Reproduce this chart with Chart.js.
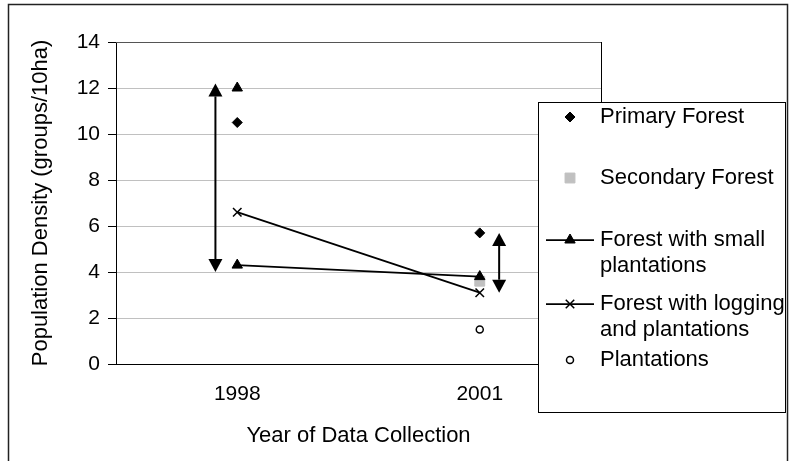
<!DOCTYPE html>
<html lang="en">
<head>
<meta charset="UTF-8">
<title>Population Density by Year</title>
<style>
  body { margin: 0; background: #fff; }
  #wrap { width: 794px; height: 461px; }
</style>
</head>
<body>
<div id="wrap"><canvas id="densityChart" width="794" height="461"></canvas></div>
<script src="https://cdn.jsdelivr.net/npm/chart.js"></script>
<script>
// categories
const years = ['1998', '2001'];

// series values (groups/10ha), null = no value
const primaryForest = [10.5, 5.7];
const secondaryForest = [null, 3.6];
const smallPlantations = [4.3, 3.8];
const smallPlantationsHigh = [12.0, null];
const loggingPlantations = [6.6, 3.1];
const plantations = [null, 1.5];

// range arrows (x as category index, low and high ends)
const arrowX = [-0.09, 1.08];
const arrowLow = [4.0, 3.1];
const arrowHigh = [12.2, 5.7];

// y axis ticks
const yTicks = [0, 2, 4, 6, 8, 10, 12, 14];

// legend labels, one array per entry (wrapped lines)
const legendText = [
    ['Primary Forest'],
    ['Secondary Forest'],
    ['Forest with small', 'plantations'],
    ['Forest with logging', 'and plantations'],
    ['Plantations']
];

const FONT = '"Liberation Sans", Arial, sans-serif';
Chart.defaults.font.family = FONT;
Chart.defaults.font.size = 21;
Chart.defaults.color = '#000';

function toPoints(values) {
    return values.map((v, i) => ({ x: i, y: v }));
}

// white background, outer frame and plot area border
const framePlugin = {
    id: 'frame',
    beforeDraw(chart) {
        const ctx = chart.ctx;
        ctx.save();
        ctx.fillStyle = '#fff';
        ctx.fillRect(0, 0, chart.width, chart.height);
        ctx.strokeStyle = '#222';
        ctx.lineWidth = 1.5;
        ctx.strokeRect(8.5, 4.5, 779, 480);
        ctx.restore();
    },
    beforeDatasetsDraw(chart) {
        const { ctx, chartArea: a } = chart;
        ctx.save();
        ctx.lineWidth = 1;
        ctx.strokeStyle = '#555';
        ctx.beginPath();
        ctx.moveTo(a.left, a.top + 0.5);
        ctx.lineTo(a.right + 0.5, a.top + 0.5);
        ctx.stroke();
        ctx.strokeStyle = '#000';
        ctx.beginPath();
        ctx.moveTo(a.right + 0.5, a.top);
        ctx.lineTo(a.right + 0.5, a.bottom);
        ctx.stroke();
        ctx.restore();
    }
};

// double headed range arrows
const arrowPlugin = {
    id: 'arrows',
    afterDatasetsDraw(chart) {
        const { ctx, scales: { x, y } } = chart;
        const head = 13, half = 7;
        ctx.save();
        ctx.strokeStyle = '#000';
        ctx.fillStyle = '#000';
        ctx.lineWidth = 2;
        arrowX.forEach((ax, i) => {
            const px = x.getPixelForValue(ax);
            const top = y.getPixelForValue(arrowHigh[i]);
            const bot = y.getPixelForValue(arrowLow[i]);
            ctx.beginPath();
            ctx.moveTo(px, top + head);
            ctx.lineTo(px, bot - head);
            ctx.stroke();
            ctx.beginPath();
            ctx.moveTo(px, top);
            ctx.lineTo(px - half, top + head);
            ctx.lineTo(px + half, top + head);
            ctx.closePath();
            ctx.fill();
            ctx.beginPath();
            ctx.moveTo(px, bot);
            ctx.lineTo(px - half, bot - head);
            ctx.lineTo(px + half, bot - head);
            ctx.closePath();
            ctx.fill();
        });
        ctx.restore();
    }
};

// boxed legend overlapping the plot area, like the original
const legendPlugin = {
    id: 'boxLegend',
    afterDraw(chart) {
        const ctx = chart.ctx;
        const box = { left: 538.5, top: 102.5, width: 247, height: 310 };
        const rowY = [117, 178, 240, 304, 360];
        const lineGap = 26;
        const markX = 570, textX = 600;
        ctx.save();
        ctx.fillStyle = '#fff';
        ctx.fillRect(box.left, box.top, box.width, box.height);
        ctx.strokeStyle = '#000';
        ctx.lineWidth = 1;
        ctx.strokeRect(box.left, box.top, box.width, box.height);

        const sets = chart.data.datasets.filter(d => d.inLegend !== false);
        sets.forEach((ds, i) => {
            const yy = rowY[i];
            if (ds.showLine) {
                ctx.strokeStyle = ds.borderColor;
                ctx.lineWidth = ds.borderWidth;
                ctx.beginPath();
                ctx.moveTo(546, yy);
                ctx.lineTo(594, yy);
                ctx.stroke();
            }
            ctx.fillStyle = ds.pointBackgroundColor;
            ctx.strokeStyle = ds.pointBorderColor;
            ctx.lineWidth = ds.pointBorderWidth;
            Chart.helpers.drawPoint(ctx, {
                pointStyle: ds.pointStyle,
                radius: ds.pointRadius,
                borderWidth: ds.pointBorderWidth,
                rotation: 0
            }, markX, yy);

            ctx.fillStyle = '#000';
            ctx.font = '22px ' + FONT;
            ctx.textBaseline = 'middle';
            ctx.textAlign = 'left';
            legendText[i].forEach((t, k) => ctx.fillText(t, textX, yy + k * lineGap));
        });
        ctx.restore();
    }
};

const datasets = [
    {
        label: 'Primary Forest',
        data: toPoints(primaryForest),
        showLine: false,
        pointStyle: 'rectRot', pointRadius: 5,
        pointBackgroundColor: '#000', pointBorderColor: '#000', pointBorderWidth: 1,
        order: 1
    },
    {
        label: 'Secondary Forest',
        data: toPoints(secondaryForest),
        showLine: false,
        pointStyle: 'rect', pointRadius: 7,
        pointBackgroundColor: '#c0c0c0', pointBorderColor: '#c0c0c0', pointBorderWidth: 1,
        order: 9
    },
    {
        label: 'Forest with small plantations',
        data: toPoints(smallPlantations),
        showLine: true, borderColor: '#000', borderWidth: 1.75,
        pointStyle: 'triangle', pointRadius: 6,
        pointBackgroundColor: '#000', pointBorderColor: '#000', pointBorderWidth: 1,
        order: 2
    },
    {
        label: 'Forest with logging and plantations',
        data: toPoints(loggingPlantations),
        showLine: true, borderColor: '#000', borderWidth: 1.75,
        pointStyle: 'crossRot', pointRadius: 6,
        pointBackgroundColor: '#000', pointBorderColor: '#000', pointBorderWidth: 1.5,
        order: 3
    },
    {
        label: 'Plantations',
        data: toPoints(plantations),
        showLine: false,
        pointStyle: 'circle', pointRadius: 3.5,
        pointBackgroundColor: '#fff', pointBorderColor: '#000', pointBorderWidth: 1.5,
        order: 4
    },
    {
        label: 'Forest with small plantations (upper)',
        data: toPoints(smallPlantationsHigh),
        showLine: false, inLegend: false,
        pointStyle: 'triangle', pointRadius: 6,
        pointBackgroundColor: '#000', pointBorderColor: '#000', pointBorderWidth: 1,
        order: 2
    }
];

new Chart(document.getElementById('densityChart'), {
    type: 'line',
    data: { datasets: datasets },
    options: {
        responsive: false,
        animation: false,
        devicePixelRatio: 1,
        layout: { padding: { top: 42, right: 193, left: 0, bottom: 0 } },
        elements: { line: { tension: 0 } },
        plugins: {
            legend: { display: false },
            tooltip: { enabled: false }
        },
        scales: {
            x: {
                type: 'linear',
                min: -0.5,
                max: 1.5,
                afterFit: s => { s.height = 97; },
                afterBuildTicks: s => { s.ticks = years.map((_, i) => ({ value: i })); },
                ticks: { callback: v => years[v], padding: 18, maxRotation: 0, autoSkip: false },
                grid: { display: false, drawTicks: false },
                border: { color: '#000', width: 1 },
                title: {
                    display: true, text: 'Year of Data Collection',
                    font: { size: 22 },
                    padding: { top: 0, bottom: 12 }
                }
            },
            y: {
                min: 0,
                max: 14,
                afterFit: s => { s.width = 116; },
                afterBuildTicks: s => { s.ticks = yTicks.map(v => ({ value: v })); },
                ticks: { padding: 8 },
                grid: {
                    color: c => (c.tick && c.tick.value === 0 ? '#000' : '#c0c0c0'),
                    tickColor: '#000',
                    tickLength: 8
                },
                border: { color: '#000', width: 1 },
                title: {
                    display: true, text: 'Population Density (groups/10ha)',
                    font: { size: 22 },
                    padding: { top: 28, bottom: 0 }
                }
            }
        }
    },
    plugins: [framePlugin, arrowPlugin, legendPlugin]
});
</script>
</body>
</html>
